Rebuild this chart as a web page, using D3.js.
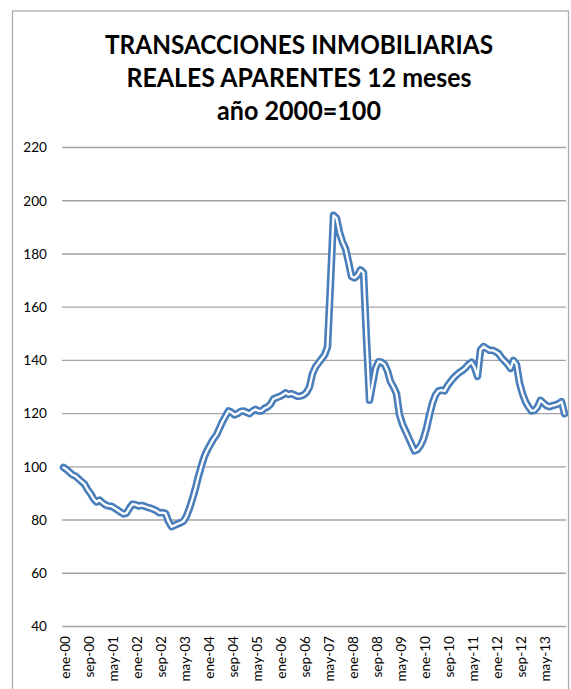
<!DOCTYPE html>
<html>
<head>
<meta charset="utf-8">
<script src="https://cdn.jsdelivr.net/npm/d3@7"></script>
<style>
  body { margin: 0; background: #fff; }
  svg { display: block; }
  text { font-family: Lato, "Open Sans", sans-serif; fill: #000; }
</style>
</head>
<body>
<svg width="571" height="689"></svg>
<script>
const titleLines = ["TRANSACCIONES INMOBILIARIAS", "REALES APARENTES 12 meses", "año 2000=100"];

const monthNames = ["ene", "feb", "mar", "abr", "may", "jun", "jul", "ago", "sep", "oct", "nov", "dic"];
const years = ["00", "01", "02", "03", "04", "05", "06", "07", "08", "09", "10", "11", "12", "13"];

// monthly index values, ene-00 .. dic-13
const values = [
  99.8, 99, 98, 97, 96.5, 95.5, 94.5, 93.5, 91.5, 90, 88, 86.8,
  87.5, 86.5, 85.7, 85.3, 85.2, 84.5, 83.8, 83, 82.3, 82.6, 84.5, 86,
  85.8, 85.3, 85.5, 85.2, 84.8, 84.5, 84, 83.5, 82.7, 82.8, 82.5, 79.5,
  77.5, 78, 78.5, 79, 79.6, 81.5, 84.5, 88, 92, 96.5, 100.5, 104,
  106.5, 108.5, 110.5, 112, 114.5, 117, 119, 121, 120.5, 119.5, 120, 120.8,
  121, 120.5, 120, 121, 121.6, 121, 121, 122, 122.5, 123.5, 125.5, 126,
  126.4, 127, 127.8, 127.2, 127.5, 127, 126.5, 126.6, 127, 128, 130, 135,
  137.5, 139, 140.5, 142, 145, 169, 194.5, 193.5, 188, 184.5, 182, 177,
  171.5, 171, 172, 174, 173, 148, 125, 131, 137, 139.5, 139.3, 138.5,
  136, 132, 130, 127.5, 119.5, 116, 113.5, 111, 108.5, 106, 106.5, 108,
  110.5, 114.5, 119.5, 124, 127, 128.5, 128.8, 128.5, 130.5, 132, 133.4, 134.5,
  135.5, 136.2, 137.2, 138.5, 139.3, 137.5, 134, 144, 145.2, 144.5, 143.8, 143.8,
  143.3, 142.6, 141, 139.8, 138.6, 137, 140, 138.5, 131.5, 127.5, 124.5, 122.5,
  121, 121.2, 122.5, 125, 124, 123, 122.6, 123, 123.3, 123.7, 124.5, 120
];

const tickLabels = ["ene-00", "sep-00", "may-01", "ene-02", "sep-02", "may-03", "ene-04",
  "sep-04", "may-05", "ene-06", "sep-06", "may-07", "ene-08", "sep-08", "may-09",
  "ene-10", "sep-10", "may-11", "ene-12", "sep-12", "may-13"];

const yTicks = [40, 60, 80, 100, 120, 140, 160, 180, 200, 220];

const months = [];
years.forEach(y => monthNames.forEach(m => months.push(m + "-" + y)));
const data = values.map((v, i) => ({ month: months[i], value: v }));

const svg = d3.select("svg");

// chart area border
svg.append("rect")
  .attr("x", 12.5)
  .attr("y", 11)
  .attr("width", 556)
  .attr("height", 700)
  .attr("fill", "none")
  .attr("stroke", "#ababab")
  .attr("stroke-width", 1.3);

const x = d3.scalePoint()
  .domain(months)
  .range([62, 566])
  .padding(0.5);

const y = d3.scaleLinear()
  .domain([40, 220])
  .range([626.5, 147.5]);

// title
const titleY = [54, 87, 120];
const titleW = [388, 345, 164];
svg.append("g")
  .selectAll("text")
  .data(titleLines)
  .enter()
  .append("text")
  .attr("x", 299)
  .attr("y", (d, i) => titleY[i])
  .attr("text-anchor", "middle")
  .attr("font-size", 26)
  .attr("font-weight", "bold")
  .attr("textLength", (d, i) => titleW[i])
  .attr("lengthAdjust", "spacingAndGlyphs")
  .text(d => d);

// gridlines
svg.append("g")
  .selectAll("line")
  .data(yTicks)
  .enter()
  .append("line")
  .attr("x1", 62)
  .attr("x2", 566)
  .attr("y1", d => y(d))
  .attr("y2", d => y(d))
  .attr("stroke", "#a3a3a3")
  .attr("stroke-width", 1.4);

// y axis labels
const yAxis = d3.axisLeft(y)
  .tickValues(yTicks)
  .tickSize(0)
  .tickPadding(0);
svg.append("g")
  .attr("transform", "translate(47,0)")
  .call(yAxis)
  .call(g => g.select(".domain").remove())
  .call(g => g.selectAll("text")
    .attr("font-family", "Lato, 'Open Sans', sans-serif")
    .attr("font-size", 13.6)
    .attr("fill", "#000"));

// x axis labels
const xAxis = d3.axisBottom(x)
  .tickValues(tickLabels)
  .tickSize(0)
  .tickPadding(0);
svg.append("g")
  .attr("transform", "translate(0,636)")
  .call(xAxis)
  .call(g => g.select(".domain").remove())
  .call(g => g.selectAll("text")
    .attr("font-family", "Lato, 'Open Sans', sans-serif")
    .attr("font-size", 13.6)
    .attr("fill", "#000")
    .attr("text-anchor", "end")
    .attr("transform", "rotate(-90)")
    .attr("x", 0)
    .attr("y", 0)
    .attr("dy", "0.45em"));

// the series: double line (blue outline, white core)
const line = d3.line()
  .x(d => x(d.month))
  .y(d => y(d.value));

svg.append("path")
  .datum(data)
  .attr("d", line)
  .attr("fill", "none")
  .attr("stroke", "#4a7ebb")
  .attr("stroke-width", 7.5)
  .attr("stroke-linejoin", "round")
  .attr("stroke-linecap", "round");

svg.append("path")
  .datum(data)
  .attr("d", line)
  .attr("fill", "none")
  .attr("stroke", "#fff")
  .attr("stroke-width", 2.3)
  .attr("stroke-linejoin", "round")
  .attr("stroke-linecap", "round");
</script>
</body>
</html>
